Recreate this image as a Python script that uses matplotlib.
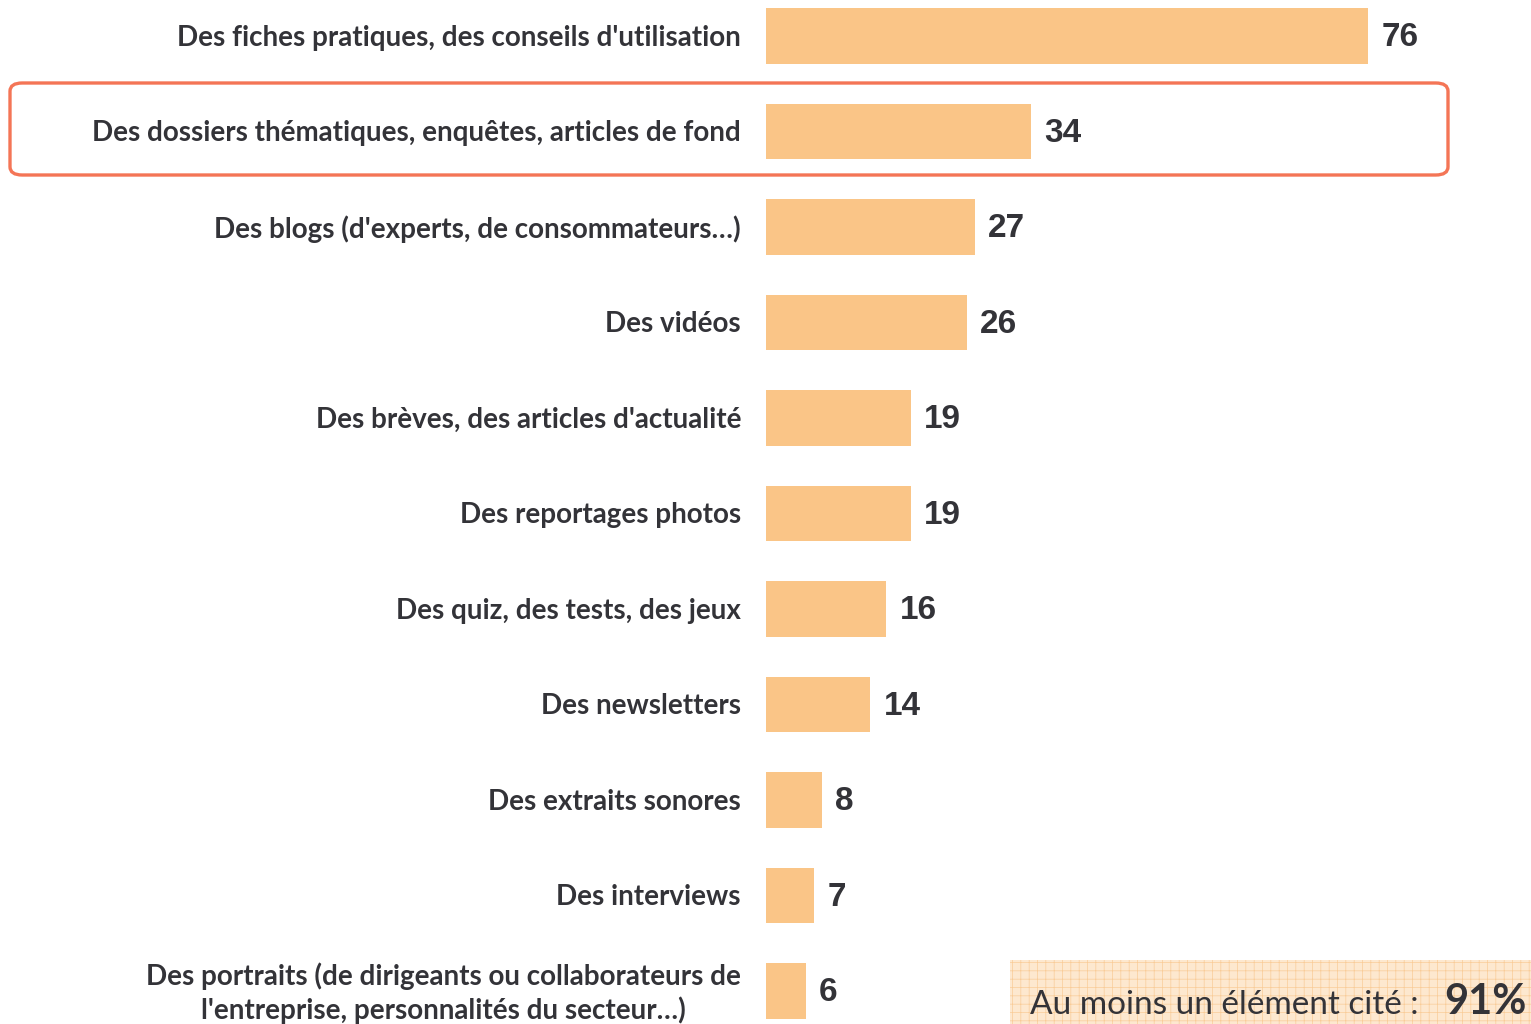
import matplotlib
matplotlib.use("Agg")
from matplotlib import pyplot as plt
from matplotlib.patches import FancyBboxPatch, Rectangle

categories = [
    "Des fiches pratiques, des conseils d'utilisation",
    "Des dossiers thématiques, enquêtes, articles de fond",
    "Des blogs (d'experts, de consommateurs…)",
    "Des vidéos",
    "Des brèves, des articles d'actualité",
    "Des reportages photos",
    "Des quiz, des tests, des jeux",
    "Des newsletters",
    "Des extraits sonores",
    "Des interviews",
    "Des portraits (de dirigeants ou collaborateurs de\nl'entreprise, personnalités du secteur…)",
]
values = [76, 34, 27, 26, 19, 19, 16, 14, 8, 7, 6]
highlight = 1
total_label = "Au moins un élément cité : "
total_value = "91%"

W, H = 1531, 1024
bar_color = "#FAC587"
text_color = "#333338"
px_per_unit = 8.03
x_start = 1.0  # bars appear to start slightly past zero in the original

fig = plt.figure(figsize=(W / 100, H / 100), dpi=100)
x0 = 766
ax = fig.add_axes([x0 / W, 0, (W - x0) / W, 1])
ax.set_xlim(x_start, x_start + (W - x0) / px_per_unit)
step = 95.5
ax.set_ylim(10 + (H - 991) / step, -36 / step)
ax.axis("off")

ypos = list(range(len(values)))
ax.barh(ypos, values, height=0.58, color=bar_color, zorder=2)
for y, v in zip(ypos, values):
    ax.annotate(str(v), xy=(v, y), xytext=(13, -2), textcoords="offset pixels",
                ha="left", va="center", fontsize=24, fontweight="bold",
                family="Liberation Sans", color=text_color)

for y, lab in zip(ypos, categories):
    ax.annotate(lab, xy=(x_start, y), xytext=(-25, -2), textcoords="offset pixels",
                ha="right", va="center", ma="center", fontsize=20,
                fontweight="bold", family="Lato", color=text_color,
                linespacing=1.3)

# highlight frame around the second row
frame = FancyBboxPatch((10 / W, 1 - 175 / H), (1448 - 10) / W, (175 - 83) / H,
                       boxstyle="round,pad=0,rounding_size=0.008",
                       transform=fig.transFigure, fill=False,
                       edgecolor="#F47556", linewidth=2.4, zorder=5)
fig.patches.append(frame)

# summary box bottom right
plt.rcParams["hatch.linewidth"] = 0.5
box = Rectangle((1010 / W, 0), (W - 1010) / W, (1024 - 960) / H,
                transform=fig.transFigure, facecolor="#FDE8CF",
                edgecolor="#F9CC98", linewidth=0, hatch="++", zorder=1)
fig.patches.append(box)
fig.text(1030 / W, 1 - 1005 / H, total_label, ha="left", va="center",
         fontsize=24, family="Lato", color=text_color)
fig.text(1527 / W, 1 - 1002 / H, total_value, ha="right", va="center",
         fontsize=30, fontweight="bold", family="Lato", color=text_color)

fig.savefig("out.png", dpi=100)
